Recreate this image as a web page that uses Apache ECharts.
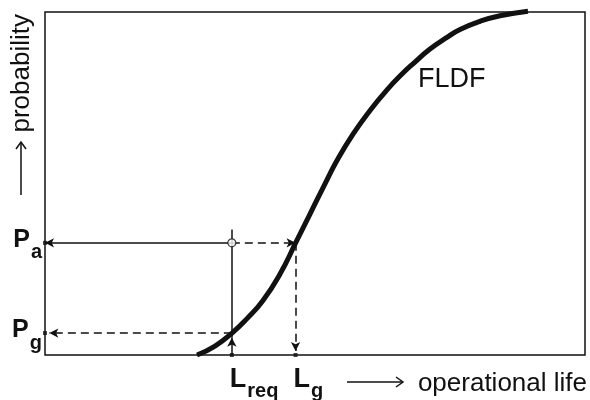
<!DOCTYPE html>
<html>
<head>
<meta charset="utf-8">
<style>
  html, body { margin: 0; padding: 0; background: #fff; }
  #chart { width: 590px; height: 400px; }
</style>
<script src="https://cdn.jsdelivr.net/npm/echarts@6/dist/echarts.min.js"></script>
</head>
<body>
<div id="chart"></div>
<script>
// Failure life distribution function (FLDF): operational life (0..100) vs probability (0..1)
const lifeX = [28.15, 31.48, 34.63, 37.41, 40.37, 43.52, 46.48, 49.07, 51.85, 54.07, 57.04, 60.19, 63.33, 66.30, 68.15, 71.30, 74.44, 76.85, 80.56, 84.26, 89.44];
const fldfY = [0.000, 0.026, 0.064, 0.106, 0.159, 0.236, 0.329, 0.411, 0.499, 0.567, 0.644, 0.713, 0.773, 0.822, 0.849, 0.892, 0.926, 0.949, 0.973, 0.989, 1.002];

// Reading points
const probA = 0.327;   // P_a
const probG = 0.064;   // P_g
const lifeReq = 34.6;  // L_req
const lifeG = 46.4;    // L_g
const reqLineTop = 0.366;

const curve = lifeX.map((x, i) => [x, fldfY[i]]);
const ink = '#111';

const chart = echarts.init(document.getElementById('chart'), null, { renderer: 'canvas' });

// one guide segment; arrowhead (if any) at the second point
function seg(p1, p2, dashed, arrow) {
  return [
    { coord: p1, symbol: 'none' },
    { coord: p2, symbol: arrow ? 'arrow' : 'none',
      lineStyle: { type: dashed ? [8, 5] : 'solid', width: 1.5, color: ink } }
  ];
}

chart.setOption({
  animation: false,
  backgroundColor: '#fff',
  grid: {
    left: 45, right: 5, top: 12, bottom: 45, containLabel: false, outerBoundsMode: 'none',
    show: true, borderColor: ink, borderWidth: 1.5, backgroundColor: 'transparent'
  },
  xAxis: {
    type: 'value', min: 0, max: 100,
    axisLine: { show: false }, axisTick: { show: false }, splitLine: { show: false },
    axisLabel: {
      customValues: [lifeReq, lifeG],
      align: 'left', margin: 4,
      formatter: v => '{b|L}{s|' + (Math.abs(v - lifeReq) < 1e-6 ? 'req' : 'g') + '}',
      rich: {
        b: { fontFamily: 'Liberation Sans', fontSize: 27, fontWeight: 'bold', color: ink, padding: [0, 0, 0, -2] },
        s: { fontFamily: 'Liberation Sans', fontSize: 20, fontWeight: 'bold', color: ink, padding: [22, 0, 0, 1] }
      }
    }
  },
  yAxis: {
    type: 'value', min: 0, max: 1,
    axisLine: { show: false }, axisTick: { show: false }, splitLine: { show: false },
    axisLabel: {
      customValues: [probG, probA],
      margin: 3,
      formatter: v => '{b|P}{s|' + (Math.abs(v - probA) < 1e-6 ? 'a' : 'g') + '}',
      rich: {
        b: { fontFamily: 'Liberation Sans', fontSize: 25, fontWeight: 'bold', color: ink, padding: [0, 0, 6, 0] },
        s: { fontFamily: 'Liberation Sans', fontSize: 20, fontWeight: 'bold', color: ink, padding: [20, 0, 0, 1] }
      }
    }
  },
  series: [
    {
      name: 'FLDF', type: 'line', data: curve, smooth: 0.5, showSymbol: false, clip: false,
      lineStyle: { color: ink, width: 5, cap: 'butt' }, z: 3
    },
    {
      name: 'readings', type: 'scatter', data: [], silent: true,
      markLine: {
        silent: true, symbolSize: [7, 9], animation: false,
        label: { show: false },
        data: [
          seg([lifeReq, probA], [0, probA], false, true),
          seg([lifeReq, probA], [lifeG, probA], true, true),
          seg([lifeG, probA], [lifeG, 0.012], true, true),
          seg([lifeReq, probG], [0.8, probG], true, true),
          seg([lifeReq, 0], [lifeReq, 0.05], false, true),
          seg([lifeReq, 0.05], [lifeReq, reqLineTop], false, false)
        ]
      },
      z: 2
    },
    {
      name: 'axisDots', type: 'scatter', symbol: 'rect', symbolSize: 4, silent: true,
      itemStyle: { color: ink },
      data: [[lifeReq, 0], [lifeG, 0], [0, probA], [0, probG]], clip: false, z: 4
    },
    {
      name: 'node', type: 'scatter', symbol: 'circle', symbolSize: 8, silent: true,
      itemStyle: { color: '#fff', borderColor: ink, borderWidth: 1.2 },
      data: [[lifeReq, probA]], z: 5
    }
  ],
  graphic: [
    { type: 'text', left: 418, top: 66, style: { text: 'FLDF', font: '27px "Liberation Sans"', fill: ink } },
    { type: 'text', x: 587, y: 384, style: { text: 'operational life', font: '26px "Liberation Sans"', fill: ink, align: 'right', verticalAlign: 'middle' } },
    { type: 'polyline', shape: { points: [[347, 382], [403, 382]] }, style: { stroke: ink, lineWidth: 1.5 } },
    { type: 'polyline', shape: { points: [[396, 377], [403, 382], [396, 387]] }, style: { stroke: ink, lineWidth: 1.5, fill: null } },
    { type: 'text', x: 22, y: 14, rotation: Math.PI / 2, style: { text: 'probability', font: '26px "Liberation Sans"', fill: ink, align: 'right', verticalAlign: 'middle' } },
    { type: 'polyline', shape: { points: [[21, 195], [21, 142]] }, style: { stroke: ink, lineWidth: 1.5 } },
    { type: 'polyline', shape: { points: [[16, 149], [21, 142], [26, 149]] }, style: { stroke: ink, lineWidth: 1.5, fill: null } }
  ]
});
</script>
</body>
</html>
